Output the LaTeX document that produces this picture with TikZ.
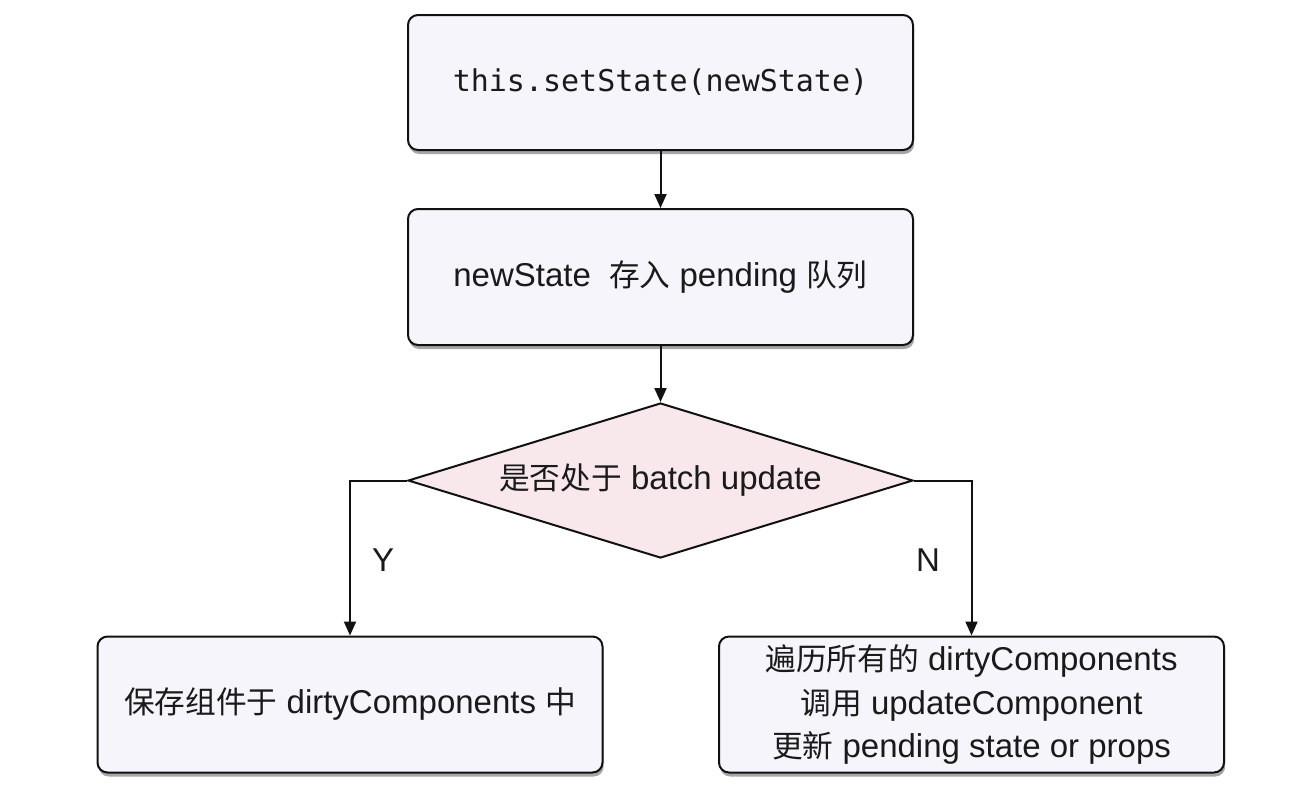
\documentclass[tikz,border=0pt]{standalone}
\usepackage{fontspec}
\setmainfont{Liberation Sans}
\setmonofont{DejaVu Sans Mono}
\newfontfamily\cjkfont{Noto Sans CJK SC}[Scale=0.93]
\newcommand{\zh}[1]{{\cjkfont #1}}
\usetikzlibrary{arrows.meta,calc,positioning,shapes.geometric,shadows}
\definecolor{fcink}{HTML}{1A1A1A}
\definecolor{fcline}{HTML}{111111}
\definecolor{fcbox}{HTML}{F6F5FB}
\definecolor{fcpink}{HTML}{F8E7EB}
\tikzset{
  stepbox/.style={rectangle,rounded corners=5pt,draw=fcline,fill=fcbox,line width=1pt,
    minimum width=252.5pt,minimum height=68pt,font=\fontsize{16.5}{21.75}\selectfont,text=fcink,align=center,
    drop shadow={shadow xshift=0.6pt,shadow yshift=-2pt,fill=black,opacity=.35}},
  decision/.style={diamond,aspect=3.26,draw=fcline,fill=fcpink,line width=1pt,inner sep=0pt,
    minimum width=252.5pt,minimum height=77.5pt,font=\fontsize{16.5}{20}\selectfont,text=fcink},
  flow/.style={-{Triangle[length=7pt,width=6pt]},draw=fcline,line width=1pt},
  yn/.style={font=\fontsize{16.5}{20}\selectfont,text=fcink},
}

\begin{document}
\begin{tikzpicture}[x=0.5pt,y=-0.5pt]
  \useasboundingbox (0,0) rectangle (1306,800);
  \node[stepbox,minimum height=67.5pt] (setstate) at (660.5,82.5) {\ttfamily\fontsize{15}{18}\selectfont this.setState(newState)};
  \node[stepbox] (pending) at (660.5,277) {newState\hspace{0.55em}\zh{存入} pending \zh{队列}};
  \node[decision] (batch) at (660.5,480.5) {\zh{是否处于} batch update};
  \node[stepbox] (keep) at (350,704.5) {\zh{保存组件于} dirtyComponents \zh{中}};
  \node[stepbox] (flush) at (971.5,704.5) {\zh{遍历所有的} dirtyComponents\\\zh{调用} updateComponent\\\zh{更新} pending state or props};
  \draw[flow] (setstate) -- (pending);
  \draw[flow] (pending) -- (batch);
  \draw[flow] (batch.west) -| (keep.north);
  \draw[flow] (batch.east) -| (flush.north);
  \node[yn] (ylabel) at (383,560) {Y};
  \node[yn] (nlabel) at (928,560) {N};
\end{tikzpicture}
\end{document}
